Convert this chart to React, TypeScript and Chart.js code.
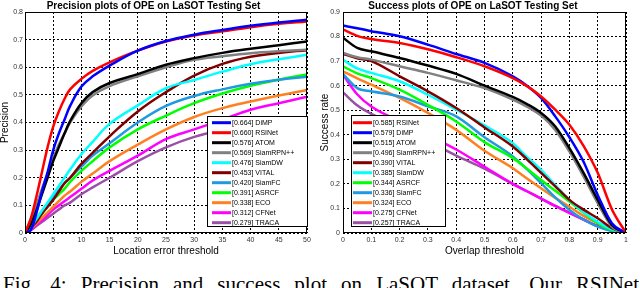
import React, { useEffect, useRef } from 'react';
import { Chart, registerables } from 'chart.js';

Chart.register(...registerables);

// ---------------- Precision plot data ----------------
const precisionX = [0, 1, 2, 3, 4, 5, 6, 7, 8, 10, 12, 15, 20, 25, 30, 35, 40, 45, 50];
const precDIMP = [0, 0.01, 0.07, 0.15, 0.22, 0.3, 0.36, 0.41, 0.46, 0.53, 0.567, 0.606, 0.66, 0.695, 0.718, 0.735, 0.75, 0.762, 0.772];
const precRSINet = [0, 0.05, 0.13, 0.22, 0.31, 0.385, 0.44, 0.485, 0.52, 0.558, 0.587, 0.618, 0.66, 0.693, 0.715, 0.73, 0.745, 0.757, 0.766];
const precATOM = [0, 0.03, 0.08, 0.14, 0.2, 0.26, 0.31, 0.36, 0.405, 0.47, 0.51, 0.543, 0.575, 0.609, 0.633, 0.652, 0.667, 0.68, 0.693];
const precSiamRPN = [0, 0.05, 0.1, 0.16, 0.215, 0.27, 0.32, 0.36, 0.4, 0.458, 0.498, 0.532, 0.567, 0.6, 0.627, 0.64, 0.651, 0.658, 0.663];
const precSiamDW = [0, 0.02, 0.05, 0.08, 0.11, 0.14, 0.17, 0.2, 0.23, 0.285, 0.33, 0.395, 0.462, 0.524, 0.554, 0.584, 0.611, 0.629, 0.645];
const precVITAL = [0, 0.02, 0.04, 0.07, 0.095, 0.12, 0.15, 0.18, 0.2, 0.25, 0.29, 0.35, 0.44, 0.51, 0.57, 0.612, 0.638, 0.652, 0.662];
const precSiamFC = [0, 0.02, 0.05, 0.08, 0.105, 0.13, 0.155, 0.18, 0.2, 0.24, 0.28, 0.325, 0.4, 0.46, 0.496, 0.52, 0.54, 0.555, 0.566];
const precASRCF = [0, 0.02, 0.045, 0.07, 0.095, 0.12, 0.14, 0.16, 0.185, 0.225, 0.26, 0.31, 0.375, 0.425, 0.47, 0.505, 0.533, 0.555, 0.574];
const precECO = [0, 0.015, 0.035, 0.055, 0.075, 0.095, 0.115, 0.135, 0.15, 0.185, 0.215, 0.26, 0.32, 0.375, 0.42, 0.452, 0.476, 0.498, 0.518];
const precCFNet = [0, 0.01, 0.03, 0.045, 0.065, 0.085, 0.1, 0.115, 0.13, 0.16, 0.19, 0.225, 0.28, 0.34, 0.375, 0.41, 0.446, 0.47, 0.493];
const precTRACA = [0, 0.01, 0.025, 0.04, 0.055, 0.07, 0.085, 0.1, 0.11, 0.14, 0.165, 0.2, 0.26, 0.31, 0.348, 0.372, 0.39, 0.402, 0.41];
const precisionNames = ['DiMP', 'RSINet', 'ATOM', 'SiamRPN++', 'SiamDW', 'VITAL', 'SiamFC', 'ASRCF', 'ECO', 'CFNet', 'TRACA'];
const precisionScores = ['0.664', '0.660', '0.576', '0.569', '0.476', '0.453', '0.420', '0.391', '0.338', '0.312', '0.279'];
const precisionSeries = [precDIMP, precRSINet, precATOM, precSiamRPN, precSiamDW, precVITAL, precSiamFC, precASRCF, precECO, precCFNet, precTRACA];
const precisionTicksX = [0, 5, 10, 15, 20, 25, 30, 35, 40, 45, 50];

// ---------------- Success plot data ----------------
const successX = [0, 0.05, 0.1, 0.2, 0.3, 0.4, 0.5, 0.6, 0.65, 0.7, 0.75, 0.8, 0.85, 0.9, 0.95, 1];
const succRSINet = [0.829, 0.803, 0.79, 0.774, 0.748, 0.716, 0.679, 0.631, 0.598, 0.556, 0.502, 0.441, 0.355, 0.245, 0.097, 0];
const succDIMP = [0.845, 0.834, 0.822, 0.801, 0.767, 0.729, 0.693, 0.638, 0.6, 0.55, 0.475, 0.39, 0.29, 0.155, 0.04, 0];
const succATOM = [0.795, 0.754, 0.74, 0.713, 0.682, 0.648, 0.6, 0.554, 0.525, 0.489, 0.434, 0.346, 0.245, 0.135, 0.033, 0];
const succSiamRPN = [0.733, 0.716, 0.706, 0.679, 0.652, 0.622, 0.59, 0.543, 0.514, 0.478, 0.42, 0.332, 0.23, 0.122, 0.026, 0];
const succVITAL = [0.729, 0.712, 0.7, 0.638, 0.577, 0.509, 0.43, 0.352, 0.3, 0.245, 0.19, 0.135, 0.095, 0.06, 0.02, 0];
const succSiamDW = [0.705, 0.67, 0.652, 0.618, 0.563, 0.502, 0.438, 0.366, 0.31, 0.257, 0.195, 0.135, 0.085, 0.046, 0.015, 0];
const succASRCF = [0.679, 0.65, 0.631, 0.584, 0.522, 0.454, 0.37, 0.305, 0.262, 0.216, 0.172, 0.128, 0.083, 0.04, 0.012, 0];
const succSiamFC = [0.647, 0.59, 0.577, 0.556, 0.516, 0.475, 0.39, 0.312, 0.26, 0.203, 0.145, 0.094, 0.055, 0.026, 0.008, 0];
const succECO = [0.658, 0.63, 0.604, 0.55, 0.489, 0.42, 0.335, 0.264, 0.222, 0.182, 0.143, 0.107, 0.07, 0.04, 0.015, 0];
const succCFNet = [0.645, 0.565, 0.515, 0.455, 0.4, 0.34, 0.27, 0.2, 0.17, 0.14, 0.11, 0.082, 0.055, 0.028, 0.01, 0];
const succTRACA = [0.573, 0.52, 0.485, 0.43, 0.375, 0.315, 0.262, 0.2, 0.17, 0.14, 0.11, 0.082, 0.055, 0.028, 0.01, 0];
const successNames = ['RSINet', 'DiMP', 'ATOM', 'SiamRPN++', 'VITAL', 'SiamDW', 'ASRCF', 'SiamFC', 'ECO', 'CFNet', 'TRACA'];
const successScores = ['0.585', '0.579', '0.515', '0.496', '0.390', '0.385', '0.344', '0.336', '0.324', '0.275', '0.257'];
const successSeries = [succRSINet, succDIMP, succATOM, succSiamRPN, succVITAL, succSiamDW, succASRCF, succSiamFC, succECO, succCFNet, succTRACA];

// ---------------- Styles ----------------
const COLORS: Record<string, string> = {
  RSINet: '#ff0000',
  DiMP: '#0000ff',
  ATOM: '#000000',
  'SiamRPN++': '#808080',
  SiamDW: '#00ffff',
  VITAL: '#800000',
  SiamFC: '#1f9ae0',
  ASRCF: '#00ff00',
  ECO: '#ff8020',
  CFNet: '#ff00ff',
  TRACA: '#9b4fa8',
};

const SANS = "'Liberation Sans', Arial, Helvetica, sans-serif";
const fmt = (v: number) => String(Math.round(v * 10) / 10);

const framePlugin = {
  id: 'frameLegend',
  afterDraw(chart: any, _args: any, opts: any) {
    const { ctx, chartArea } = chart;
    const { left, top, right, bottom } = chartArea;
    ctx.save();
    ctx.setLineDash([]);
    ctx.strokeStyle = '#000';
    ctx.lineWidth = 1;
    ctx.strokeRect(Math.round(left) + 0.5, Math.round(top) + 0.5, Math.round(right - left) - 1, Math.round(bottom - top) - 1);

    const lg = opts.box;
    if (lg) {
      ctx.fillStyle = '#fff';
      ctx.fillRect(lg.x, lg.y, lg.w, lg.h);
      ctx.strokeStyle = '#000';
      ctx.strokeRect(lg.x + 0.5, lg.y + 0.5, lg.w - 1, lg.h - 1);
      ctx.font = `7px ${SANS}`;
      ctx.textBaseline = 'middle';
      ctx.textAlign = 'left';
      chart.data.datasets.forEach((ds: any, i: number) => {
        const y = lg.y + lg.row0 + i * lg.rowH;
        ctx.strokeStyle = ds.borderColor;
        ctx.lineWidth = 3;
        ctx.beginPath();
        ctx.moveTo(lg.x + lg.lx0, y);
        ctx.lineTo(lg.x + lg.lx1, y);
        ctx.stroke();
        ctx.fillStyle = '#000';
        ctx.fillText(ds.label, lg.x + lg.tx, y + 0.5);
      });
    }
    ctx.restore();
  },
};

function makeConfig(p: any) {
  return {
    type: 'line',
    data: {
      datasets: p.names.map((n: string, i: number) => ({
        label: `[${p.scores[i]}] ${n}`,
        data: p.xs.map((x: number, j: number) => ({ x, y: p.series[i][j] })),
        borderColor: COLORS[n],
        backgroundColor: COLORS[n],
        borderWidth: 2.5,
        pointRadius: 0,
        fill: false,
        ...(p.smooth ? { tension: 0.4 } : { cubicInterpolationMode: 'monotone' }),
      })),
    },
    options: {
      responsive: false,
      animation: false,
      devicePixelRatio: 1,
      layout: { padding: { left: 0, right: p.padRight, top: 0, bottom: 0 } },
      plugins: {
        legend: { display: false },
        tooltip: { enabled: false },
        title: {
          display: true,
          text: p.title,
          color: '#000',
          font: { family: SANS, size: 10, weight: 'bold', lineHeight: 1.2 },
          padding: { top: 0, bottom: 0 },
        },
        frameLegend: { box: p.box },
      },
      scales: {
        x: {
          type: 'linear',
          min: 0,
          max: p.xMax,
          afterFit: (s: any) => { s.height = 27; },
          afterBuildTicks: (s: any) => { s.ticks = p.xTicks.map((v: number) => ({ value: v })); },
          ticks: {
            callback: (v: number) => fmt(v),
            font: { family: SANS, size: 7 },
            color: '#333',
            padding: 3,
            maxRotation: 0,
            autoSkip: false,
          },
          grid: { color: '#000', lineWidth: 1, drawTicks: false },
          border: { display: false, dash: [2, 2] },
          title: {
            display: true,
            text: p.xTitle,
            color: '#000',
            font: { family: SANS, size: 10, lineHeight: 1.2 },
            padding: { top: 0, bottom: 3 },
          },
        },
        y: {
          type: 'linear',
          min: 0,
          max: p.yMax,
          afterFit: (s: any) => { s.width = p.yWidth; },
          afterBuildTicks: (s: any) => { s.ticks = p.yTicks.map((v: number) => ({ value: v })); },
          ticks: {
            callback: (v: number) => fmt(v),
            font: { family: SANS, size: 7 },
            color: '#333',
            padding: p.yPad,
            autoSkip: false,
          },
          grid: { color: '#000', lineWidth: 1, drawTicks: false },
          border: { display: false, dash: [2, 2] },
          title: {
            display: true,
            text: p.yTitle,
            color: '#000',
            font: { family: SANS, size: 10, lineHeight: 1 },
            padding: { top: 0, bottom: 0 },
          },
        },
      },
    },
    plugins: [framePlugin],
  };
}

function Panel({ params, left }: { params: any; left: number }) {
  const ref = useRef<HTMLCanvasElement>(null);
  useEffect(() => {
    const chart = new Chart(ref.current as HTMLCanvasElement, makeConfig(params) as any);
    return () => chart.destroy();
  }, []);
  return (
    <canvas
      ref={ref}
      width={320}
      height={260}
      style={{ position: 'absolute', left, top: 0, width: 320, height: 260 }}
    />
  );
}

const yPrecTicks = [0, 0.1, 0.2, 0.3, 0.4, 0.5, 0.6, 0.7, 0.8];
const ySuccTicks = [0, 0.1, 0.2, 0.3, 0.4, 0.5, 0.6, 0.7, 0.8, 0.9];
const xSuccTicks = [0, 0.1, 0.2, 0.3, 0.4, 0.5, 0.6, 0.7, 0.8, 0.9, 1];

export default function App() {
  const precParams = {
    title: 'Precision plots of OPE on LaSOT Testing Set',
    xTitle: 'Location error threshold',
    yTitle: 'Precision',
    xs: precisionX,
    names: precisionNames,
    scores: precisionScores,
    series: precisionSeries,
    smooth: true,
    xMax: 50,
    yMax: 0.8,
    xTicks: precisionTicksX,
    yTicks: yPrecTicks,
    yWidth: 25,
    yPad: 2,
    padRight: 13,
    box: { x: 207, y: 116, w: 101, h: 111, lx0: 5, lx1: 24, tx: 25, row0: 6.7, rowH: 10 },
  };
  const succParams = {
    title: 'Success plots of OPE on LaSOT Testing Set',
    xTitle: 'Overlap threshold',
    yTitle: 'Success rate',
    xs: successX,
    names: successNames,
    scores: successScores,
    series: successSeries,
    smooth: false,
    xMax: 1,
    yMax: 0.9,
    xTicks: xSuccTicks,
    yTicks: ySuccTicks,
    yWidth: 23,
    yPad: 3,
    padRight: 14,
    box: { x: 31, y: 115, w: 95, h: 112, lx0: 2, lx1: 21, tx: 22, row0: 7.7, rowH: 10 },
  };
  return (
    <div style={{ position: 'fixed', left: 0, top: 0, width: 640, height: 288, overflow: 'hidden', background: '#fff' }}>
      <Panel params={precParams} left={0} />
      <Panel params={succParams} left={320} />
      <div
        style={{
          position: 'absolute',
          left: 3,
          top: 274,
          width: 636,
          fontFamily: "'Liberation Serif', 'Times New Roman', serif",
          fontSize: 21,
          lineHeight: '21px',
          textAlign: 'justify',
          textAlignLast: 'justify',
          whiteSpace: 'nowrap',
          color: '#000',
        }}
      >
        Fig. 4: Precision and success plot on LaSOT dataset. Our RSINet
      </div>
    </div>
  );
}
